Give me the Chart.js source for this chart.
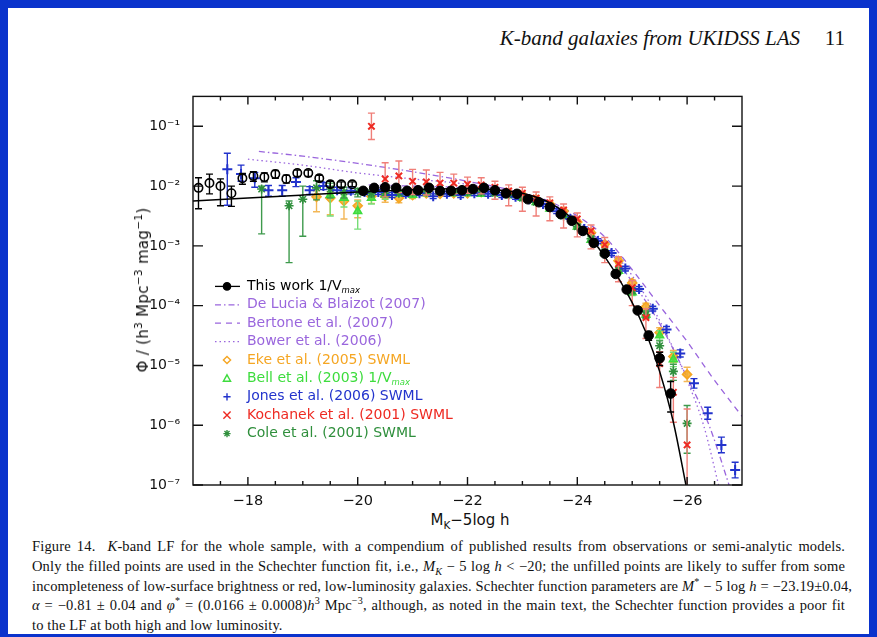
<!DOCTYPE html>
<html lang="en">
<head>
<meta charset="UTF-8">
<title>K-band luminosity function</title>
<script src="https://cdn.jsdelivr.net/npm/chart.js"></script>
<style>
  html, body { margin: 0; padding: 0; }
  body { width: 877px; height: 637px; background: #0a33cc; position: relative; overflow: hidden; }
  #page { position: absolute; left: 8px; top: 8px; width: 861px; height: 626px; background: #fff; }
  .abs { position: absolute; white-space: nowrap; color: #111; }
  #runhead { right: 77px; top: 26px; font: italic 21px "Liberation Serif", serif; }
  #pageno { right: 32px; top: 26px; font: 21px "Liberation Serif", serif; }
  #chart { position: absolute; left: 120px; top: 75px; }
  #ytitle { left: 143px; top: 290px; transform: translate(-50%, -50%) rotate(-90deg);
            font: 15px "DejaVu Sans", sans-serif; letter-spacing: 0.3px; }
  #xtitle { left: 470px; top: 520px; transform: translate(-50%, -50%);
            font: 15px "DejaVu Sans", sans-serif; }
  sup, sub { font-size: 70%; line-height: 0; }
  #caption { position: absolute; left: 32px; top: 537px; width: 813px;
             font: 14.5px/19.8px "Liberation Serif", serif; letter-spacing: 0.15px; color: #111; }
  #caption div { text-align: justify; text-align-last: justify; white-space: nowrap; }
  #caption div.last { text-align-last: left; }
</style>
</head>
<body>
<div id="page"></div>
<div class="abs" id="runhead">K-band galaxies from UKIDSS LAS</div>
<div class="abs" id="pageno">11</div>
<canvas id="chart" width="640" height="435"></canvas>
<div class="abs" id="ytitle">&Phi; / (h<sup>3</sup> Mpc<sup>&minus;3</sup> mag<sup>&minus;1</sup>)</div>
<div class="abs" id="xtitle">M<sub>K</sub>&minus;5log h</div>
<div id="caption">
  <div>Figure 14.&nbsp; <i>K</i>-band LF for the whole sample, with a compendium of published results from observations or semi-analytic models.</div>
  <div>Only the filled points are used in the Schechter function fit, i.e., <i>M<sub>K</sub></i> &minus; 5 log <i>h</i> &lt; &minus;20; the unfilled points are likely to suffer from some</div>
  <div>incompleteness of low-surface brightness or red, low-luminosity galaxies. Schechter function parameters are <i>M</i><sup>*</sup> &minus; 5 log <i>h</i> = &minus;23.19&plusmn;0.04,</div>
  <div><i>&alpha;</i> = &minus;0.81 &plusmn; 0.04 and <i>&phi;</i><sup>*</sup> = (0.0166 &plusmn; 0.0008)<i>h</i><sup>3</sup> Mpc<sup>&minus;3</sup>, although, as noted in the main text, the Schechter function provides a poor fit</div>
  <div class="last">to the LF at both high and low luminosity.</div>
</div>

<script>
// magnitudes are M_K - 5 log h, densities are log10(Phi)

// this work, 1/Vmax, unfilled (M > -20)
const twFaintM = [-17.1, -17.3, -17.5, -17.7, -17.9, -18.1, -18.3, -18.5, -18.7, -18.9, -19.1, -19.3, -19.5, -19.7, -19.9];
const twFaintPhi = [-2.03, -1.95, -2.00, -2.12, -1.87, -1.83, -1.85, -1.80, -1.88, -1.78, -1.78, -1.87, -1.97, -1.97, -1.97];
const twFaintUp = [0.17, 0.15, 0.12, 0.12, 0.08, 0.07, 0.07, 0.06, 0.06, 0.05, 0.05, 0.05, 0.05, 0.04, 0.04];
const twFaintDn = [0.35, 0.18, 0.33, 0.22, 0.10, 0.09, 0.08, 0.07, 0.07, 0.06, 0.06, 0.05, 0.05, 0.05, 0.04];

// this work, 1/Vmax, filled (used in the fit)
const twM = [-20.1, -20.3, -20.5, -20.7, -20.9, -21.1, -21.3, -21.5, -21.7, -21.9, -22.1, -22.3, -22.5, -22.7, -22.9,
             -23.1, -23.3, -23.5, -23.7, -23.9, -24.1, -24.3, -24.5, -24.7, -24.9, -25.1, -25.3, -25.5, -25.7];
const twPhi = [-2.08, -2.03, -2.02, -2.03, -2.08, -2.07, -2.03, -2.08, -2.08, -2.07, -2.05, -2.03, -2.07, -2.12, -2.13,
               -2.22, -2.27, -2.35, -2.47, -2.58, -2.75, -2.95, -3.13, -3.47, -3.73, -4.08, -4.50, -4.88, -5.47];
const twUp = [0.04, 0.04, 0.04, 0.03, 0.03, 0.03, 0.03, 0.03, 0.03, 0.03, 0.03, 0.03, 0.03, 0.03, 0.03,
              0.03, 0.03, 0.03, 0.03, 0.03, 0.03, 0.03, 0.03, 0.03, 0.04, 0.05, 0.07, 0.10, 0.20];
const twDn = [0.04, 0.04, 0.04, 0.03, 0.03, 0.03, 0.03, 0.03, 0.03, 0.03, 0.03, 0.03, 0.03, 0.03, 0.03,
              0.03, 0.03, 0.03, 0.03, 0.03, 0.03, 0.03, 0.03, 0.03, 0.04, 0.05, 0.08, 0.12, 0.31];

// Schechter fit curve
const fitM = [-17, -18, -19, -20, -21, -22, -22.5, -23, -23.5, -24, -24.5, -25, -25.25, -25.5, -25.75, -26];
const fitPhi = [-2.25, -2.20, -2.15, -2.10, -2.06, -2.04, -2.06, -2.12, -2.28, -2.62, -3.18, -3.95, -4.45, -5.10, -5.95, -7.10];

// semi-analytic models
const deLuciaM = [-18.2, -19, -20, -21, -22, -23, -23.5, -24, -24.5, -25, -25.5, -26, -26.4, -26.8];
const deLuciaPhi = [-1.42, -1.50, -1.62, -1.76, -1.92, -2.12, -2.30, -2.60, -3.00, -3.60, -4.30, -5.20, -6.00, -7.10];
const bertoneM = [-20.2, -21, -22, -23, -23.5, -24, -24.5, -25, -25.5, -26, -26.5, -27];
const bertonePhi = [-1.98, -2.00, -2.03, -2.12, -2.26, -2.50, -2.85, -3.40, -4.00, -4.60, -5.25, -5.85];
const bowerM = [-18.0, -19, -20, -21, -22, -23, -23.5, -24, -24.5, -25, -25.5, -26, -26.3, -26.6];
const bowerPhi = [-1.55, -1.65, -1.78, -1.88, -1.97, -2.12, -2.28, -2.55, -2.95, -3.50, -4.25, -5.25, -6.00, -7.10];

// Eke et al. (2005) SWML
const ekeM = [-19.25, -19.5, -19.75, -20, -20.25, -20.5, -20.75, -21, -21.25, -21.5, -21.75, -22, -22.25, -22.5,
              -22.75, -23, -23.25, -23.5, -23.75, -24, -24.25, -24.5, -24.75, -25, -25.25, -25.5, -25.75, -26];
const ekePhi = [-2.18, -2.20, -2.25, -2.33, -2.17, -2.17, -2.20, -2.15, -2.12, -2.13, -2.12, -2.12, -2.10, -2.10,
                -2.12, -2.15, -2.22, -2.30, -2.42, -2.60, -2.78, -2.97, -3.25, -3.62, -4.02, -4.45, -4.85, -5.15];
const ekeUp = [0.10, 0.10, 0.12, 0.10, 0.08, 0.07, 0.06, 0.05, 0.05, 0.04, 0.04, 0.04, 0.04, 0.04,
               0.04, 0.04, 0.04, 0.04, 0.04, 0.04, 0.04, 0.04, 0.05, 0.05, 0.06, 0.08, 0.10, 0.12];
const ekeDn = [0.25, 0.28, 0.30, 0.20, 0.12, 0.10, 0.08, 0.06, 0.05, 0.04, 0.04, 0.04, 0.04, 0.04,
               0.04, 0.04, 0.04, 0.04, 0.04, 0.04, 0.04, 0.04, 0.05, 0.05, 0.06, 0.08, 0.10, 0.12];

// Bell et al. (2003) 1/Vmax
const bellM = [-19.5, -19.75, -20, -20.25, -20.5, -20.75, -21, -21.25, -21.5, -21.75, -22, -22.25, -22.5,
               -22.75, -23, -23.25, -23.5, -23.75, -24, -24.25, -24.5, -24.75, -25, -25.25, -25.5, -25.75];
const bellPhi = [-2.15, -2.20, -2.42, -2.20, -2.15, -2.12, -2.15, -2.12, -2.10, -2.12, -2.12, -2.13, -2.12,
                 -2.15, -2.20, -2.27, -2.38, -2.50, -2.68, -2.90, -3.12, -3.42, -3.78, -4.15, -4.50, -4.90];
const bellUp = [0.15, 0.10, 0.17, 0.06, 0.05, 0.05, 0.04, 0.04, 0.04, 0.04, 0.04, 0.04, 0.04,
                0.04, 0.04, 0.04, 0.04, 0.04, 0.04, 0.04, 0.04, 0.05, 0.05, 0.06, 0.08, 0.12];
const bellDn = [0.35, 0.15, 0.30, 0.10, 0.07, 0.05, 0.04, 0.04, 0.04, 0.04, 0.04, 0.04, 0.04,
                0.04, 0.04, 0.04, 0.04, 0.04, 0.04, 0.04, 0.04, 0.05, 0.05, 0.06, 0.08, 0.12];

// Jones et al. (2006) SWML
const jonesM = [-17.625, -17.875, -18.125, -18.375, -18.625, -18.875, -19.125, -19.375, -19.625, -19.875,
                -20.125, -20.375, -20.625, -20.875, -21.125, -21.375, -21.625, -21.875, -22.125, -22.375,
                -22.625, -22.875, -23.125, -23.375, -23.625, -23.875, -24.125, -24.375, -24.625, -24.875,
                -25.125, -25.375, -25.625, -25.875, -26.125, -26.375, -26.625, -26.875];
const jonesPhi = [-1.72, -1.80, -1.87, -2.07, -2.07, -1.93, -2.07, -2.00, -2.07, -2.08,
                  -2.10, -2.10, -2.15, -2.13, -2.12, -2.17, -2.13, -2.15, -2.12, -2.13,
                  -2.15, -2.18, -2.22, -2.30, -2.42, -2.55, -2.72, -2.92, -3.12, -3.38,
                  -3.72, -4.05, -4.40, -4.80, -5.30, -5.80, -6.33, -6.75];
const jonesUp = [0.27, 0.15, 0.10, 0.08, 0.08, 0.07, 0.06, 0.06, 0.05, 0.05,
                 0.04, 0.04, 0.04, 0.04, 0.04, 0.04, 0.04, 0.04, 0.04, 0.04,
                 0.04, 0.04, 0.04, 0.04, 0.04, 0.04, 0.04, 0.04, 0.04, 0.04,
                 0.04, 0.04, 0.05, 0.06, 0.08, 0.10, 0.13, 0.13];
const jonesDn = [0.60, 0.12, 0.15, 0.10, 0.10, 0.08, 0.07, 0.06, 0.05, 0.05,
                 0.04, 0.04, 0.04, 0.04, 0.04, 0.04, 0.04, 0.04, 0.04, 0.04,
                 0.04, 0.04, 0.04, 0.04, 0.04, 0.04, 0.04, 0.04, 0.04, 0.04,
                 0.04, 0.04, 0.05, 0.06, 0.08, 0.10, 0.13, 0.13];

// Kochanek et al. (2001) SWML
const kochM = [-20.25, -20.5, -20.75, -21, -21.25, -21.5, -21.75, -22, -22.25, -22.5, -22.75, -23,
               -23.25, -23.5, -23.75, -24, -24.25, -24.5, -24.75, -25, -25.25, -25.5, -25.75, -26];
const kochPhi = [-1.00, -1.88, -1.83, -1.92, -1.93, -1.95, -1.95, -1.97, -1.98, -2.02, -2.08, -2.12,
                 -2.20, -2.28, -2.40, -2.55, -2.75, -2.98, -3.30, -3.70, -4.20, -4.97, -5.45, -6.33];
const kochUp = [0.22, 0.27, 0.25, 0.20, 0.20, 0.18, 0.15, 0.12, 0.12, 0.10, 0.10, 0.10,
                0.10, 0.10, 0.10, 0.10, 0.10, 0.12, 0.12, 0.12, 0.15, 0.20, 0.25, 0.60];
const kochDn = [0.22, 0.30, 0.28, 0.22, 0.22, 0.20, 0.18, 0.15, 0.15, 0.20, 0.25, 0.30,
                0.30, 0.30, 0.30, 0.30, 0.30, 0.30, 0.30, 0.30, 0.35, 0.40, 0.50, 1.20];

// Cole et al. (2001) SWML
const coleM = [-18.25, -18.75, -19, -19.25, -19.5, -19.75, -20, -20.25, -20.5, -20.75, -21, -21.25, -21.5,
               -21.75, -22, -22.25, -22.5, -22.75, -23, -23.25, -23.5, -23.75, -24, -24.25, -24.5, -24.75,
               -25, -25.25, -25.5, -25.75, -26];
const colePhi = [-2.05, -2.33, -2.22, -2.03, -2.05, -2.10, -2.10, -2.12, -2.12, -2.12, -2.10, -2.10, -2.10,
                 -2.10, -2.10, -2.10, -2.12, -2.15, -2.20, -2.27, -2.37, -2.50, -2.68, -2.88, -3.10, -3.40,
                 -3.75, -4.15, -4.67, -5.10, -5.97];
const coleUp = [0.05, 0.08, 0.22, 0.12, 0.10, 0.08, 0.06, 0.05, 0.04, 0.04, 0.04, 0.04, 0.04,
                0.04, 0.04, 0.04, 0.04, 0.04, 0.04, 0.04, 0.04, 0.04, 0.04, 0.04, 0.04, 0.04,
                0.05, 0.06, 0.08, 0.12, 0.30];
const coleDn = [0.75, 0.95, 0.62, 0.20, 0.15, 0.10, 0.08, 0.06, 0.05, 0.04, 0.04, 0.04, 0.04,
                0.04, 0.04, 0.04, 0.04, 0.04, 0.04, 0.04, 0.04, 0.04, 0.04, 0.04, 0.04, 0.04,
                0.05, 0.06, 0.10, 0.15, 0.50];

// axis ticks
const xMajorTicks = [-18, -20, -22, -24, -26];
const xMinorTicks = [-17.5, -18.5, -19, -19.5, -20.5, -21, -21.5, -22.5, -23, -23.5, -24.5, -25, -25.5, -26.5];
const yTicks = [-7, -6, -5, -4, -3, -2, -1];

const PURPLE = '#9a66dd', ORANGE = '#f5a623', GREEN = '#3ddc3d', BLUE = '#2233cc', RED = '#ee2a22', DKGREEN = '#2f8f3c';

const pts = (m, p) => m.map((v, i) => ({ x: v, y: p[i] }));
const sup = s => String(s).replace(/[-0-9]/g, c => ({'-': '\u207B', '0': '\u2070', '1': '\u00B9', '2': '\u00B2', '3': '\u00B3',
  '4': '\u2074', '5': '\u2075', '6': '\u2076', '7': '\u2077', '8': '\u2078', '9': '\u2079'})[c]);

function marker(ctx, style, x, y, r, fill, stroke, lw) {
  ctx.save();
  ctx.lineWidth = lw; ctx.strokeStyle = stroke; ctx.fillStyle = fill;
  ctx.beginPath();
  if (style === 'circle') {
    ctx.arc(x, y, r, 0, Math.PI * 2); if (fill) ctx.fill(); ctx.stroke();
  } else if (style === 'rectRot') {
    ctx.moveTo(x, y - r); ctx.lineTo(x + r, y); ctx.lineTo(x, y + r); ctx.lineTo(x - r, y); ctx.closePath();
    if (fill) ctx.fill(); ctx.stroke();
  } else if (style === 'triangle') {
    ctx.moveTo(x, y - r); ctx.lineTo(x + r, y + r * 0.8); ctx.lineTo(x - r, y + r * 0.8); ctx.closePath();
    if (fill) ctx.fill(); ctx.stroke();
  } else if (style === 'cross') {
    ctx.moveTo(x - r, y); ctx.lineTo(x + r, y); ctx.moveTo(x, y - r); ctx.lineTo(x, y + r); ctx.stroke();
  } else if (style === 'crossRot') {
    ctx.moveTo(x - r, y - r); ctx.lineTo(x + r, y + r); ctx.moveTo(x + r, y - r); ctx.lineTo(x - r, y + r); ctx.stroke();
  } else if (style === 'star') {
    ctx.moveTo(x - r, y); ctx.lineTo(x + r, y); ctx.moveTo(x, y - r); ctx.lineTo(x, y + r);
    ctx.moveTo(x - r * 0.7, y - r * 0.7); ctx.lineTo(x + r * 0.7, y + r * 0.7);
    ctx.moveTo(x + r * 0.7, y - r * 0.7); ctx.lineTo(x - r * 0.7, y + r * 0.7); ctx.stroke();
  }
  ctx.restore();
}

// vertical error bars with caps, drawn just under each dataset's markers
const errorBars = {
  id: 'errorBars',
  beforeDatasetDraw(chart, args) {
    const ds = chart.data.datasets[args.index];
    if (!ds.errUp) return;
    const { ctx, chartArea: a, scales: { x, y } } = chart;
    ctx.save();
    ctx.beginPath(); ctx.rect(a.left, a.top, a.right - a.left, a.bottom - a.top); ctx.clip();
    ctx.strokeStyle = ds.errColor; ctx.lineWidth = 1.4;
    ds.data.forEach((p, i) => {
      const px = x.getPixelForValue(p.x);
      const t = y.getPixelForValue(p.y + (ds.errUp[i] || 0));
      const b = y.getPixelForValue(p.y - (ds.errDn[i] || 0));
      ctx.beginPath();
      ctx.moveTo(px, t); ctx.lineTo(px, b);
      ctx.moveTo(px - 3.5, t); ctx.lineTo(px + 3.5, t);
      ctx.moveTo(px - 3.5, b); ctx.lineTo(px + 3.5, b);
      ctx.stroke();
    });
    ctx.restore();
  }
};

// box with inward ticks on all four sides
const frame = {
  id: 'frame',
  afterDraw(chart) {
    const { ctx, chartArea: a, scales: { x, y } } = chart;
    ctx.save();
    ctx.strokeStyle = '#111'; ctx.lineWidth = 1.4;
    ctx.strokeRect(a.left, a.top, a.right - a.left, a.bottom - a.top);
    ctx.beginPath();
    const tickX = (v, len) => {
      const px = x.getPixelForValue(v);
      ctx.moveTo(px, a.bottom); ctx.lineTo(px, a.bottom - len);
      ctx.moveTo(px, a.top); ctx.lineTo(px, a.top + len);
    };
    xMajorTicks.forEach(v => tickX(v, 8));
    xMinorTicks.forEach(v => tickX(v, 4));
    yTicks.forEach(v => {
      const py = y.getPixelForValue(v);
      ctx.moveTo(a.left, py); ctx.lineTo(a.left + 10, py);
      ctx.moveTo(a.right, py); ctx.lineTo(a.right - 10, py);
    });
    ctx.stroke();
    ctx.restore();
  }
};

const legendItems = [
  { label: 'This work 1/V', sub: 'max', color: '#000', dash: [], point: 'circle', fill: '#000' },
  { label: 'De Lucia & Blaizot (2007)', color: PURPLE, dash: [6, 3, 1.5, 3] },
  { label: 'Bertone et al. (2007)', color: PURPLE, dash: [6, 5] },
  { label: 'Bower et al. (2006)', color: PURPLE, dash: [1.5, 3] },
  { label: 'Eke et al. (2005) SWML', color: ORANGE, point: 'rectRot' },
  { label: 'Bell et al. (2003) 1/V', sub: 'max', color: GREEN, point: 'triangle' },
  { label: 'Jones et al. (2006) SWML', color: BLUE, point: 'cross' },
  { label: 'Kochanek et al. (2001) SWML', color: RED, point: 'crossRot' },
  { label: 'Cole et al. (2001) SWML', color: DKGREEN, point: 'star' }
];

const legend = {
  id: 'sampleLegend',
  afterDraw(chart) {
    const ctx = chart.ctx;
    const x0 = chart.chartArea.left + 22, y0 = chart.chartArea.top + 190, step = 18.4;
    ctx.save();
    ctx.textBaseline = 'middle';
    legendItems.forEach((it, i) => {
      const y = y0 + i * step;
      if (it.dash) {
        ctx.beginPath(); ctx.setLineDash(it.dash); ctx.strokeStyle = it.color; ctx.lineWidth = 1.3;
        ctx.moveTo(x0, y); ctx.lineTo(x0 + 25, y); ctx.stroke(); ctx.setLineDash([]);
      }
      if (it.point) marker(ctx, it.point, x0 + 12, y, 3.6, it.fill || null, it.color, 1.4);
      ctx.fillStyle = it.color;
      ctx.font = '14px "DejaVu Sans", sans-serif';
      ctx.fillText(it.label, x0 + 32, y);
      if (it.sub) {
        const w = ctx.measureText(it.label).width;
        ctx.font = 'italic 8.5px "DejaVu Sans", sans-serif';
        ctx.fillText(it.sub, x0 + 32 + w, y + 4);
      }
    });
    ctx.restore();
  }
};

const scatterSet = (m, p, up, dn, style, color, fill, errColor, r, bw) => ({
  data: pts(m, p), errUp: up, errDn: dn, errColor: errColor,
  pointStyle: style, pointRadius: r, borderColor: color, backgroundColor: fill,
  pointBorderWidth: bw, showLine: false
});
const lineSet = (m, p, color, dash, width) => ({
  data: pts(m, p), showLine: true, pointRadius: 0, borderColor: color, borderWidth: width,
  borderDash: dash, cubicInterpolationMode: 'monotone', fill: false
});

new Chart(document.getElementById('chart'), {
  type: 'scatter',
  data: {
    datasets: [
      scatterSet(twM, twPhi, twUp, twDn, 'circle', '#000', '#000', '#000', 4.8, 1),
      scatterSet(twFaintM, twFaintPhi, twFaintUp, twFaintDn, 'circle', '#000', 'rgba(0,0,0,0)', '#000', 4.2, 1.6),
      lineSet(fitM, fitPhi, '#000', [], 1.5),
      scatterSet(kochM, kochPhi, kochUp, kochDn, 'crossRot', RED, RED, '#f07f78', 4.5, 2),
      scatterSet(jonesM, jonesPhi, jonesUp, jonesDn, 'cross', BLUE, BLUE, BLUE, 5, 2),
      scatterSet(coleM, colePhi, coleUp, coleDn, 'star', DKGREEN, DKGREEN, '#3e9a4c', 4.5, 1.6),
      scatterSet(bellM, bellPhi, bellUp, bellDn, 'triangle', GREEN, 'rgba(61,220,61,0.8)', '#77dd77', 4.5, 1.6),
      scatterSet(ekeM, ekePhi, ekeUp, ekeDn, 'rectRot', ORANGE, 'rgba(245,170,40,0.85)', '#f3b756', 4.5, 1.6),
      lineSet(deLuciaM, deLuciaPhi, PURPLE, [6, 3, 1.5, 3], 1.3),
      lineSet(bertoneM, bertonePhi, PURPLE, [6, 5], 1.3),
      lineSet(bowerM, bowerPhi, PURPLE, [1.5, 3], 1.3)
    ]
  },
  options: {
    responsive: false,
    animation: false,
    layout: { padding: { left: 0, top: 0, right: 18, bottom: 0 } },
    plugins: { legend: { display: false }, tooltip: { enabled: false } },
    scales: {
      x: {
        type: 'linear', min: -27, max: -17, reverse: true,
        grid: { display: false, drawTicks: false }, border: { display: false },
        afterBuildTicks: s => { s.ticks = xMajorTicks.map(v => ({ value: v })); },
        afterFit: s => { s.height = 25; },
        ticks: { padding: 8, color: '#111', font: { family: 'DejaVu Sans', size: 14.5 },
                 callback: v => '\u2212' + Math.abs(v) }
      },
      y: {
        type: 'linear', min: -7, max: -0.5,
        grid: { display: false, drawTicks: false }, border: { display: false },
        afterBuildTicks: s => { s.ticks = yTicks.map(v => ({ value: v })); },
        afterFit: s => { s.width = 73; },
        ticks: { padding: 13, color: '#111', font: { family: 'DejaVu Sans', size: 14 },
                 callback: v => '10' + sup(v) }
      }
    }
  },
  plugins: [errorBars, frame, legend]
});
</script>
</body>
</html>
